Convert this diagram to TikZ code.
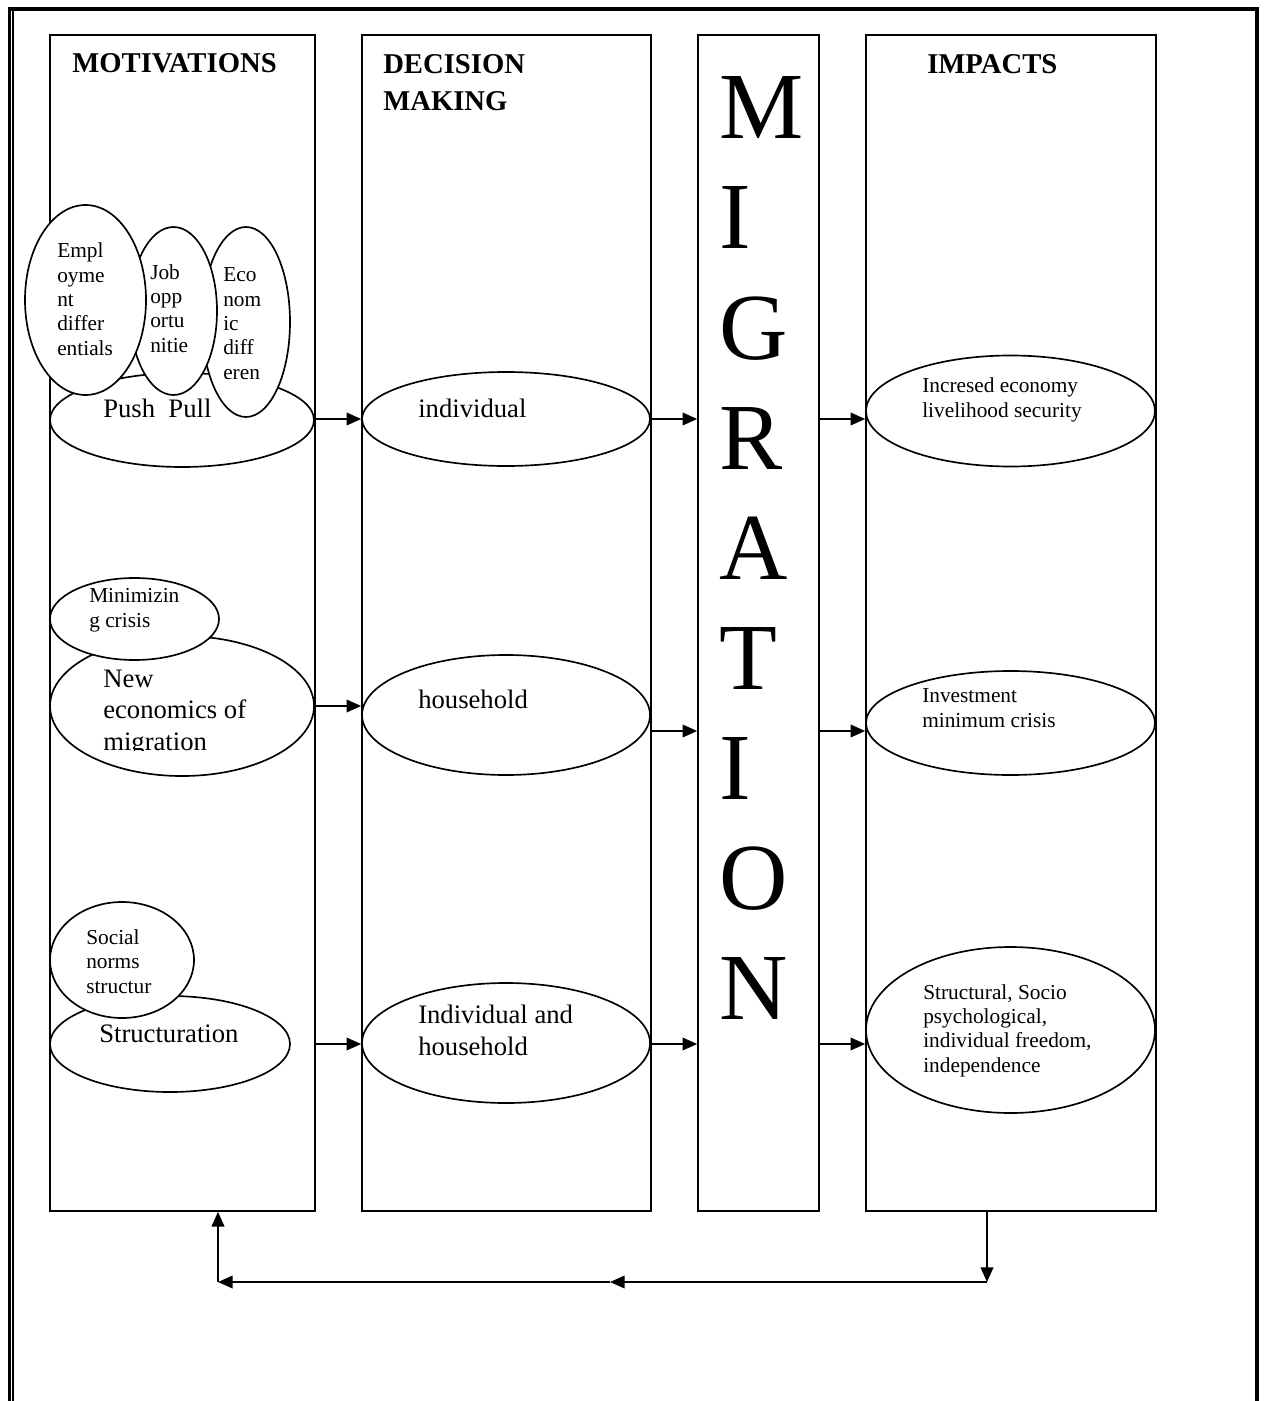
\documentclass[tikz,border=0pt]{standalone}
\usepackage{fontspec}
\setmainfont{Liberation Serif}
\usetikzlibrary{arrows.meta,shapes.geometric}
\begin{document}
\begin{tikzpicture}[x=0.75pt,y=-0.75pt,
  colbox/.style={draw, line width=1.25pt, inner sep=0, minimum height=882pt},
  ell/.style={draw, ellipse, line width=1.25pt, fill=white, inner sep=0},
  arr/.style={line width=1.25pt, -{Triangle[length=11pt,width=9.5pt]}},
  lbl/.style={inner sep=0, anchor=base west, align=left},
  small/.style={lbl, font=\fontsize{16}{18.2}\selectfont},
  mid/.style={lbl, font=\fontsize{20}{23.5}\selectfont},
  head/.style={lbl, font=\fontsize{21.5}{27.75}\selectfont\bfseries},
  big/.style={inner sep=0, anchor=base west, font=\fontsize{71}{71}\selectfont}
]
\useasboundingbox (0,0) rectangle (1266,1401);
% outer border
\draw[line width=2.4pt] (9.5,1401) -- (9.5,9) -- (1257,9) -- (1257,1401);
\draw[line width=1.1pt] (12.8,11) -- (12.8,1401);

% columns
\node[colbox, minimum width=198.75pt] (c1) at (182.5,623) {};
\node[colbox, minimum width=216.75pt] (c2) at (506.5,623) {};
\node[colbox, minimum width=90.75pt]  (c3) at (758.5,623) {};
\node[colbox, minimum width=217.5pt]  (c4) at (1011,623) {};

% headers (anchor = baseline of last line)
\node[head] (h1) at (72,73) {MOTIVATIONS};
\node[head] (h2) at (383,111) {DECISION\\MAKING};
\node[head] (h4) at (927,74) {IMPACTS};

% MIGRATION
\node[big] (m1) at (719,139) {M};
\node[big] (m2) at (719,249) {I};
\node[big] (m3) at (719,359) {G};
\node[big] (m4) at (719,469) {R};
\node[big] (m5) at (719,579) {A};
\node[big] (m6) at (719,689) {T};
\node[big] (m7) at (719,799) {I};
\node[big] (m8) at (719,909) {O};
\node[big] (m9) at (719,1019) {N};

% row 1
\node[ell, minimum width=198pt, minimum height=70.5pt] (pp) at (182,420) {};
\node[ell, minimum width=66pt, minimum height=142.5pt] (eco) at (246,322) {};
\node[ell, minimum width=65.25pt, minimum height=126pt] (job) at (173.5,311) {};
\node[ell, minimum width=90.75pt, minimum height=142.5pt] (emp) at (85.5,300) {};
\node[small] (tEmp) at (57,355) {Empl\\oyme\\nt\\differ\\entials};
\node[small] (tJob) at (150,352) {Job\\opp\\ortu\\nitie};
\node[small] (tEco) at (223,379) {Eco\\nom\\ic\\diff\\eren};
\node[mid] (tPP) at (103,417) {Push\ \ Pull};

\node[ell, minimum width=216pt, minimum height=70.5pt] (ind) at (506,419) {};
\node[mid] (tInd) at (418,417) {individual};

\node[ell, minimum width=216.75pt, minimum height=83.25pt] (inc) at (1010.5,411) {};
\node[small] (tInc) at (922,417) {Incresed economy\\livelihood security};

% row 2
\node[ell, minimum width=198pt, minimum height=105pt] (nec) at (182,706) {};
\node[ell, minimum width=126.75pt, minimum height=61.5pt] (min) at (134.5,619) {};
\node[small] (tMin) at (89,627) {Minimizin\\g crisis};
\begin{scope}
\clip (0,0) rectangle (1266,750);
\node[mid] (tNec) at (103,750) {New\\economics of\\migration};
\end{scope}

\node[ell, minimum width=216pt, minimum height=90pt] (hh) at (506,715) {};
\node[mid] (tHh) at (418,708) {household};

\node[ell, minimum width=216.75pt, minimum height=78pt] (inv) at (1010.5,723) {};
\node[small] (tInv) at (922,727) {Investment\\minimum crisis};

% row 3
\node[ell, minimum width=180pt, minimum height=72pt] (stn) at (170,1044) {};
\node[ell, minimum width=108pt, minimum height=87pt] (soc) at (122,960) {};
\node[small] (tSoc) at (86,993) {Social\\norms\\structur};
\node[mid] (tStn) at (99,1042) {Structuration};

\node[ell, minimum width=216pt, minimum height=90pt] (ih) at (506,1043) {};
\node[mid] (tIh) at (418,1055) {Individual and\\household};

\node[ell, minimum width=216.75pt, minimum height=124.5pt] (str) at (1010.5,1030) {};
\node[small] (tStr) at (923,1072) {Structural, Socio\\psychological,\\individual freedom,\\independence};

% row arrows
\coordinate (r1) at (0,419);
\coordinate (r2) at (0,731);
\coordinate (r3) at (0,1044);
\draw[arr] (c1.east |- r1) -- (ind.west |- r1);
\draw[arr] (ind.east |- r1) -- (c3.west |- r1);
\draw[arr] (c3.east |- r1) -- (c4.west |- r1);
\draw[arr] (nec.east) -- (c2.west |- nec.east);
\draw[arr] (c2.east |- r2) -- (c3.west |- r2);
\draw[arr] (c3.east |- r2) -- (c4.west |- r2);
\draw[arr] (c1.east |- r3) -- (c2.west |- r3);
\draw[arr] (c2.east |- r3) -- (c3.west |- r3);
\draw[arr] (c3.east |- r3) -- (c4.west |- r3);

% feedback loop
\coordinate (fbR) at (987,1282);
\coordinate (fbM) at (610,1282);
\coordinate (fbL) at (218,1282);
\draw[arr] (c4.south -| fbR) -- (fbR);
\draw[arr] (fbR) -- (fbM);
\draw[arr] (fbM) -- (fbL);
\draw[arr] (fbL) -- (c1.south -| fbL);
\end{tikzpicture}
\end{document}
